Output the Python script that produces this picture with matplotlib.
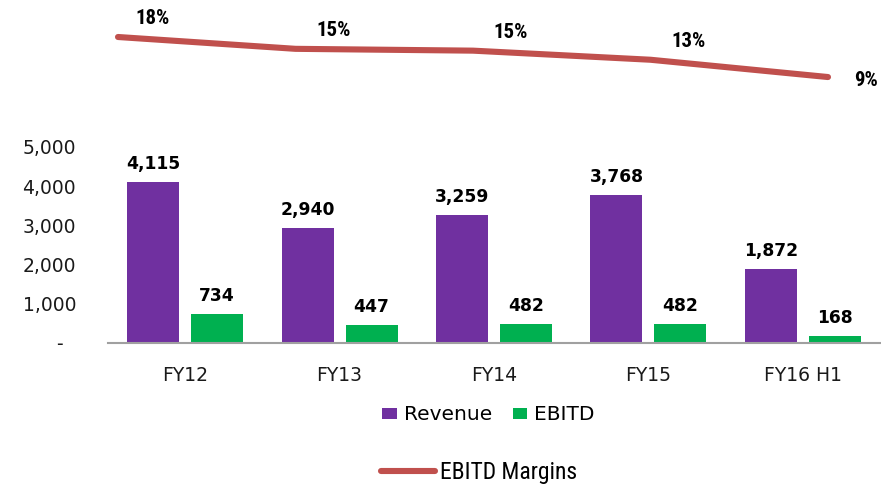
import matplotlib
matplotlib.use("Agg")
import matplotlib.pyplot as plt
from matplotlib import font_manager
from matplotlib.font_manager import FontProperties
from matplotlib.lines import Line2D
from matplotlib.patches import Patch
from matplotlib.ticker import FixedLocator, FuncFormatter
import numpy as np

categories = ["FY12", "FY13", "FY14", "FY15", "FY16 H1"]
revenue = [4115, 2940, 3259, 3768, 1872]
ebitd = [734, 447, 482, 482, 168]
margins = [17.8, 15.2, 14.8, 12.8, 9.0]
margin_labels = ["18%", "15%", "15%", "13%", "9%"]
y_ticks = [0, 1000, 2000, 3000, 4000, 5000]

PURPLE = "#7030A0"
GREEN = "#00B050"
RED = "#C0504D"


def narrow_font(bold, size):
    fonts = font_manager.fontManager.ttflist
    def is_bold(f):
        w = f.weight
        if isinstance(w, str):
            return w in ("bold", "heavy", "black", "demibold", "semibold")
        return w >= 600
    prefs = ["Liberation Sans Narrow", "Arial Narrow", "Roboto Condensed",
             "Open Sans Condensed", "DejaVu Sans Condensed", "Noto Sans Condensed"]
    cands = []
    for f in fonts:
        cond = ("Narrow" in f.name or "Condensed" in f.name or "condensed" in str(f.stretch)
                or "Condensed" in f.fname or "Narrow" in f.fname)
        if not cond or f.style != "normal":
            continue
        if is_bold(f) != bold:
            continue
        if "Extra" in f.fname or "Ultra" in f.fname or "Semi" in f.fname:
            continue
        rank = len(prefs)
        for i, p in enumerate(prefs):
            if p.lower().replace(" ", "") in (f.name + f.fname).lower().replace(" ", ""):
                rank = i
                break
        cands.append((rank, f.fname))
    if cands:
        cands.sort()
        return FontProperties(fname=cands[0][1], size=size)
    return FontProperties(family="DejaVu Sans", weight="bold" if bold else "normal",
                          size=size * 0.85)


plt.rcParams["font.family"] = ["DejaVu Sans"]

fig = plt.figure(figsize=(8.81, 4.84), dpi=100)

# ---- bar chart ----
ax = fig.add_axes([108 / 881, 141.5 / 484, 772 / 881, 195.5 / 484])
x = np.arange(len(categories))
w = 0.337
off = 0.207
b1 = ax.bar(x - off, revenue, w, color=PURPLE, zorder=2)
b2 = ax.bar(x + off, ebitd, w, color=GREEN, zorder=2)
ax.set_xlim(-0.5, len(categories) - 0.5)
ax.set_ylim(0, 5000)

for bars, vals in ((b1, revenue), (b2, ebitd)):
    for r, v in zip(bars, vals):
        ax.annotate(f"{v:,}", (r.get_x() + r.get_width() / 2, v),
                    xytext=(0, 13), textcoords="offset pixels",
                    ha="center", va="baseline", fontsize=12.3, fontweight="bold",
                    color="black", annotation_clip=False)

for s in ("left", "right", "top"):
    ax.spines[s].set_visible(False)
ax.spines["bottom"].set_color("#A0A0A0")
ax.spines["bottom"].set_linewidth(1.5)
ax.yaxis.set_major_locator(FixedLocator(y_ticks))
ax.yaxis.set_major_formatter(FuncFormatter(lambda v, p: "-  " if v == 0 else f"{int(v):,}"))
ax.tick_params(axis="y", length=0, pad=23, labelsize=13.5, labelcolor="#1a1a1a")
ax.set_xticks(x)
ax.set_xticklabels(categories)
ax.tick_params(axis="x", length=0, pad=17, labelsize=13.5, labelcolor="#1a1a1a")

# ---- margin line (top) ----
ax2 = fig.add_axes([0, 0, 1, 1])
ax2.set_xlim(-118 / 177.5, (881 - 118) / 177.5)
ax2.set_ylim(17.8 - 447 / 4.55, 17.8 + 37 / 4.55)
ax2.axis("off")
ax2.patch.set_alpha(0)
ax2.plot(x, margins, color=RED, lw=4.4, solid_capstyle="round", solid_joinstyle="round")
pct_font = narrow_font(True, 15)
for i, (m, lab) in enumerate(zip(margins, margin_labels)):
    dy = 18 if i < len(margins) - 1 else -3
    dx = 35 if i == 0 else 38
    ax2.annotate(lab, (i, m), xytext=(dx, dy), textcoords="offset pixels",
                 ha="center", va="center", fontproperties=pct_font, color="black")

# ---- legends ----
h_bar = [Patch(facecolor=PURPLE, label="Revenue"), Patch(facecolor=GREEN, label="EBITD")]
fig.legend(handles=h_bar, loc="center", bbox_to_anchor=(488.5 / 881, 69 / 484),
           ncol=2, frameon=False, fontsize=14.5, handlelength=0.7, handleheight=0.45,
           handletextpad=0.35, columnspacing=1.05, borderpad=0, borderaxespad=0)
leg_font = narrow_font(False, 17)
h_line = [Line2D([0], [0], color=RED, lw=4.4, solid_capstyle="round", label="EBITD Margins")]
fig.legend(handles=h_line, loc="center", bbox_to_anchor=(479 / 881, 11 / 484),
           frameon=False, handlelength=2.3, handletextpad=0.22, borderpad=0,
           borderaxespad=0, prop=leg_font)

fig.savefig("out.png", dpi=100)
